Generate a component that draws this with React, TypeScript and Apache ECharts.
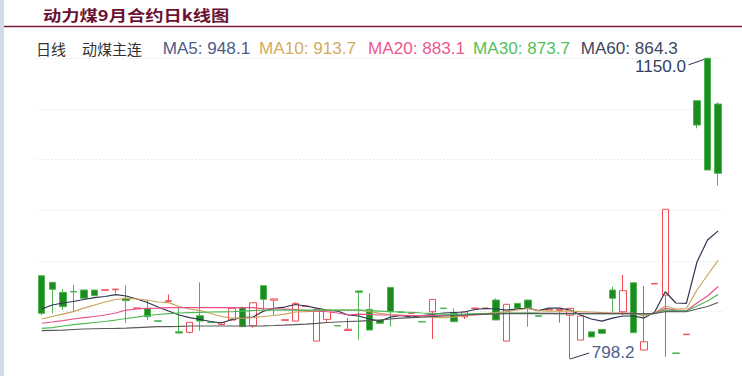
import React, { useEffect, useRef } from "react";
import * as echarts from "echarts";

const days = [
  "1", "2", "3", "4", "5", "6", "7", "8", "9", "10",
  "11", "12", "13", "14", "15", "16", "17", "18", "19", "20",
  "21", "22", "23", "24", "25", "26", "27", "28", "29", "30",
  "31", "32", "33", "34", "35", "36", "37", "38", "39", "40",
  "41", "42", "43", "44", "45", "46", "47", "48", "49", "50",
  "51", "52", "53", "54", "55", "56", "57", "58", "59", "60",
  "61", "62", "63", "64", "65",
];

const opens = [
  895.6, 887.9, 876.2, 877.2, 878.9, 878.9, 878.5, 879.2, 869.2, 857.2,
  857.5, 842.9, 865.6, 830.0, 829.4, 848.9, 841.3, 838.6, 843.8, 858.2,
  837.1, 884.0, 867.0, 843.5, 842.6, 859.6, 819.2, 844.6, 837.4, 831.5,
  877.8, 856.3, 843.8, 882.0, 853.3, 851.7, 842.1, 853.5, 857.8, 851.6,
  847.6, 857.2, 857.2, 867.2, 819.2, 863.3, 867.2, 848.8, 855.7, 855.0,
  849.4, 820.4, 830.0, 832.8, 878.9, 853.5, 887.4, 808.7, 886.0, 873.0,
  805.3, 826.7, 1100.4, 1150.0, 1096.5,
];
const closes = [
  851.6, 879.7, 859.4, 876.6, 869.2, 872.3, 879.2, 880.0, 866.5, 858.0,
  847.7, 842.4, 866.4, 828.6, 841.1, 842.6, 840.8, 841.0, 857.5, 836.0,
  864.0, 868.0, 868.5, 844.1, 863.3, 860.2, 856.3, 854.7, 836.8, 833.0,
  876.3, 832.1, 840.0, 853.5, 852.7, 852.3, 841.5, 868.0, 857.2, 841.8,
  853.5, 857.8, 857.8, 843.8, 862.2, 857.5, 858.2, 848.2, 856.3, 856.0,
  857.5, 848.5, 824.0, 828.2, 869.2, 878.1, 829.0, 818.4, 886.6, 973.3,
  804.7, 827.3, 1071.9, 1019.3, 1015.4,
];
const lows = [
  849.7, 851.6, 855.5, 853.5, 869.2, 872.3, 878.5, 875.0, 840.6, 857.2,
  843.8, 842.4, 865.0, 828.0, 828.2, 831.3, 840.8, 838.0, 843.0, 836.0,
  834.8, 855.5, 849.7, 843.5, 842.6, 859.6, 819.2, 841.8, 836.8, 831.0,
  820.4, 832.1, 840.0, 836.0, 852.7, 851.7, 841.5, 821.6, 857.2, 841.8,
  845.0, 857.2, 857.2, 843.8, 819.2, 857.5, 836.0, 848.2, 855.7, 840.8,
  798.2, 820.4, 824.0, 828.2, 853.5, 849.7, 829.0, 808.7, 886.0, 800.9,
  804.7, 826.7, 1068.1, 1019.3, 1000.9,
];
const highs = [
  895.6, 887.9, 880.1, 884.8, 880.1, 878.9, 879.2, 880.0, 884.5, 858.0,
  867.2, 842.9, 873.8, 859.5, 841.1, 887.9, 841.3, 841.0, 857.5, 859.4,
  864.0, 884.0, 868.5, 844.1, 864.5, 860.2, 856.3, 854.7, 837.4, 846.0,
  877.8, 875.0, 843.8, 882.0, 853.3, 852.3, 842.1, 868.0, 857.8, 857.5,
  853.5, 857.8, 857.8, 869.2, 862.2, 863.3, 867.2, 848.8, 856.3, 856.0,
  857.5, 848.5, 830.0, 832.8, 882.8, 896.5, 887.4, 883.6, 886.6, 973.3,
  805.3, 827.3, 1100.4, 1150.0, 1098.5,
];

const ma5 = [
  856.7, 861.4, 863.7, 865.5, 867.8, 870.1, 871.3, 873.6, 871.9, 868.4,
  864.3, 859.0, 854.3, 849.7, 846.7, 844.4, 842.1, 840.3, 844.4, 846.7,
  847.3, 854.3, 857.5, 859.0, 862.0, 860.2, 857.8, 855.5, 854.3, 849.7,
  848.5, 845.0, 842.6, 847.3, 849.1, 847.3, 849.1, 850.3, 852.0, 852.6,
  853.2, 856.1, 857.3, 856.7, 855.5, 856.7, 857.8, 854.9, 857.8, 857.8,
  855.5, 849.7, 845.0, 842.6, 846.1, 848.5, 848.5, 846.1, 853.2, 876.9,
  863.7, 863.3, 911.7, 937.4, 948.1,
];
const ma10 = [
  845.0, 847.9, 850.8, 853.7, 857.8, 861.4, 864.9, 867.8, 869.2, 868.4,
  867.2, 864.9, 864.1, 859.6, 856.7, 854.9, 851.4, 847.9, 846.1, 846.1,
  846.7, 847.9, 849.1, 850.8, 853.2, 853.7, 854.3, 855.5, 855.5, 855.5,
  855.5, 853.7, 851.6, 850.3, 849.7, 849.1, 848.5, 847.3, 846.7, 847.3,
  849.1, 850.3, 851.4, 852.6, 853.7, 855.5, 857.3, 854.9, 854.3, 854.3,
  854.3, 853.7, 853.2, 852.4, 852.0, 852.0, 851.6, 848.5, 852.0, 860.2,
  856.7, 857.3, 878.9, 896.5, 913.7,
];
const ma20 = [
  840.0, 841.5, 843.2, 845.0, 846.7, 847.9, 849.7, 852.0, 855.5, 856.7,
  857.5, 857.8, 858.2, 858.4, 858.4, 858.4, 858.4, 858.4, 858.2, 858.2,
  858.2, 857.2, 857.0, 856.5, 856.0, 854.9, 854.3, 853.5, 852.0, 849.7,
  850.8, 850.3, 849.7, 849.7, 849.1, 849.1, 849.1, 849.1, 849.4, 849.7,
  849.7, 849.7, 850.8, 851.4, 851.6, 851.6, 851.6, 851.6, 851.6, 851.6,
  851.6, 851.6, 851.6, 851.6, 851.6, 851.6, 851.6, 851.0, 851.6, 857.5,
  855.5, 854.7, 863.7, 871.9, 883.1,
];
const ma30 = [
  834.1, 835.0, 836.8, 838.5, 839.7, 840.9, 842.1, 843.8, 845.6, 847.3,
  849.1, 850.3, 851.4, 852.0, 852.4, 852.8, 853.2, 853.4, 853.5, 854.3,
  854.9, 855.5, 855.5, 855.5, 855.5, 855.5, 855.5, 855.5, 855.5, 855.5,
  855.5, 854.9, 854.3, 853.7, 853.2, 852.8, 852.0, 851.4, 850.8, 850.5,
  850.8, 851.4, 851.4, 851.6, 851.8, 852.0, 852.3, 851.8, 851.6, 851.4,
  851.4, 851.4, 851.4, 851.4, 851.4, 851.4, 851.2, 851.0, 851.4, 855.5,
  854.9, 854.3, 860.2, 866.0, 873.7,
];
const ma60 = [
  831.3, 831.7, 832.1, 832.7, 833.3, 833.6, 833.9, 834.1, 834.4, 835.0,
  835.6, 836.0, 836.2, 836.4, 836.8, 836.8, 836.8, 836.8, 836.8, 836.8,
  836.8, 837.0, 837.4, 837.9, 838.5, 839.1, 839.9, 840.9, 841.5, 842.1,
  842.6, 843.2, 843.8, 845.0, 846.1, 846.7, 847.3, 847.9, 848.5, 849.1,
  849.7, 850.3, 850.8, 851.0, 851.4, 851.4, 851.4, 851.4, 851.4, 851.4,
  851.4, 851.4, 851.4, 851.4, 851.4, 851.4, 851.4, 851.4, 851.4, 853.7,
  853.7, 853.5, 856.7, 859.6, 864.3,
];

const titleText = "动力煤9月合约日k线图";
const periodLabel = "日线";
const contractLabel = "动煤主连";
const maNames = ["MA5", "MA10", "MA20", "MA30", "MA60"];
const maLatest = ["948.1", "913.7", "883.1", "873.7", "864.3"];

const maLineColors = ["#2e3452", "#c9a458", "#ea4f8c", "#4cbb55", "#5a5a5a"];
const maTextColors = ["#4d5c88", "#d2ad5c", "#ee5890", "#52bf5a", "#3f4660"];
const legendX = [162.7, 259, 368, 473, 580.7];

export default function App() {
  const ref = useRef<HTMLDivElement>(null);

  useEffect(() => {
    const chart = echarts.init(ref.current as HTMLDivElement, null, { renderer: "svg" });
    const kdata = opens.map((o, i) => [o, closes[i], lows[i], highs[i]]);
    const maSeries = [ma5, ma10, ma20, ma30, ma60];
    const latin = "'Liberation Sans', Arial, sans-serif";

    const baseGraphic: any[] = [
      { type: "rect", shape: { x: 0, y: 0, width: 4, height: 376 }, style: { fill: "#d2dbea" }, silent: true },
      {
        type: "text", x: 43, y: 15, scaleX: 1.22,
        style: { text: titleText, fill: "#6b1232", fontSize: 15, fontWeight: "bold", fontFamily: "'Noto Sans CJK SC', sans-serif", textVerticalAlign: "middle" },
      },
      { type: "line", shape: { x1: 4, y1: 26.5, x2: 742, y2: 26.5 }, style: { stroke: "#7a1a3c", lineWidth: 1.5 } },
      {
        type: "text", x: 36, y: 48.5,
        style: { text: periodLabel, fill: "#333333", fontSize: 15, fontFamily: "'Noto Sans CJK SC', sans-serif", textVerticalAlign: "middle" },
      },
      {
        type: "text", x: 82, y: 48.5,
        style: { text: contractLabel, fill: "#333333", fontSize: 15, fontFamily: "'Noto Sans CJK SC', sans-serif", textVerticalAlign: "middle" },
      },
      ...maNames.map((n, i) => ({
        type: "text", x: legendX[i], y: 48.5, scaleX: 1.07,
        style: { text: n + ": " + maLatest[i], fill: maTextColors[i], fontSize: 16, fontFamily: latin, textVerticalAlign: "middle" },
      })),
    ];

    chart.setOption({
      animation: false,
      backgroundColor: "#ffffff",
      grid: { left: 36.4, right: 18.6, top: 58.3, bottom: 14, containLabel: false },
      xAxis: {
        type: "category",
        data: days,
        boundaryGap: true,
        show: false,
      },
      yAxis: [
        { type: "value", min: 794.7, max: 1150, show: false, splitLine: { show: false } },
        {
          type: "value", min: 0, max: 6, interval: 1, position: "left",
          axisLabel: { show: false }, axisLine: { show: false }, axisTick: { show: false },
          splitLine: { show: true, showMinLine: false, lineStyle: { color: "#e4e6ea", type: [1.5, 2.2], width: 1 } },
        },
      ],
      series: [
        {
          type: "candlestick",
          data: kdata,
          barWidth: 7,
          yAxisIndex: 0,
          itemStyle: {
            color: "#ffffff",
            color0: "#1d8c20",
            borderColor: "#f14a55",
            borderColor0: "#4fb552",
            borderWidth: 1,
          },
        },
        ...maSeries.map((arr, i) => ({
          type: "line",
          name: maNames[i],
          data: arr,
          yAxisIndex: 0,
          symbol: "none",
          smooth: false,
          lineStyle: { color: maLineColors[i], width: 1.2 },
          z: 3,
        })),
      ],
      graphic: baseGraphic,
    });

    // annotate the extreme high and low through the chart's own scales
    let maxI = 0;
    let minI = 0;
    highs.forEach((h, i) => { if (h > highs[maxI]) maxI = i; });
    lows.forEach((l, i) => { if (l < lows[minI]) minI = i; });
    const pMax = chart.convertToPixel({ xAxisIndex: 0, yAxisIndex: 0 }, [maxI, highs[maxI]]) as number[];
    const pMin = chart.convertToPixel({ xAxisIndex: 0, yAxisIndex: 0 }, [minI, lows[minI]]) as number[];

    chart.setOption({
      graphic: [
        ...baseGraphic,
        { type: "line", shape: { x1: pMax[0], y1: pMax[1], x2: pMax[0] - 19, y2: pMax[1] + 6.5 }, style: { stroke: "#2c3450", lineWidth: 1 } },
        {
          type: "text", x: pMax[0] - 21.5, y: pMax[1] + 8, scaleX: 1.07, originX: 0,
          style: { text: highs[maxI].toFixed(1), fill: "#333d66", fontSize: 16, fontFamily: latin, textAlign: "right", textVerticalAlign: "middle" },
        },
        { type: "line", shape: { x1: pMin[0], y1: pMin[1], x2: pMin[0] + 19, y2: pMin[1] - 6 }, style: { stroke: "#2c3450", lineWidth: 1 } },
        {
          type: "text", x: pMin[0] + 21.5, y: pMin[1] - 6.5, scaleX: 1.07,
          style: { text: lows[minI].toFixed(1), fill: "#4d5f8c", fontSize: 16, fontFamily: latin, textAlign: "left", textVerticalAlign: "middle" },
        },
      ],
    }, { replaceMerge: ["graphic"] });

    return () => chart.dispose();
  }, []);

  return (
    <div
      ref={ref}
      style={{ position: "fixed", left: 0, top: 0, width: 742, height: 376, background: "#ffffff" }}
    />
  );
}
